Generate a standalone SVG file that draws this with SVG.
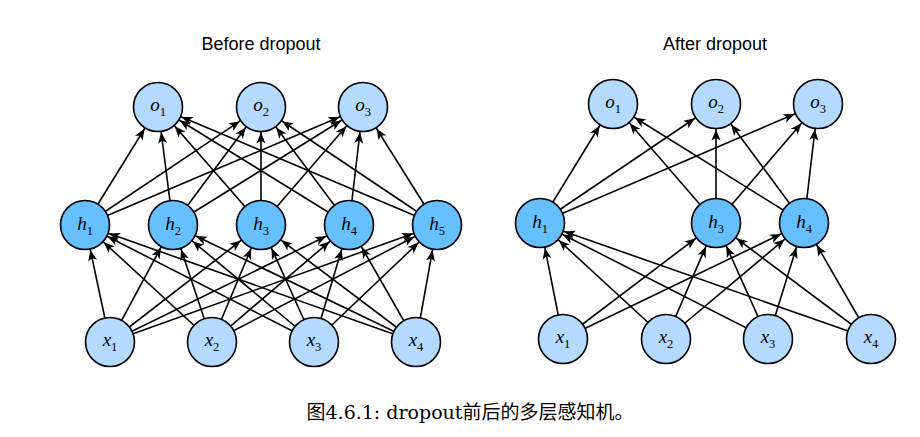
<svg xmlns="http://www.w3.org/2000/svg" width="920" height="437" viewBox="0 0 920 437">
<style>
.e{stroke:#000;stroke-width:1.6;fill:none;marker-end:url(#arr)}
.nl{fill:#b4daff;stroke:#000;stroke-width:1.6}
.nd{fill:#66bfff;stroke:#000;stroke-width:1.6}
.lb{font-family:"Liberation Serif",serif;font-size:19px;fill:#000;text-anchor:middle}
.v{font-style:italic}
.s{font-size:12.5px}
.t{font-family:"Liberation Sans",Arial,sans-serif;font-size:18px;fill:#000;text-anchor:middle}
.cap{font-family:"DejaVu Serif","Noto Sans CJK SC",serif;font-size:19px;fill:#000;text-anchor:middle}
</style>
<defs>
<marker id="arr" viewBox="0 0 11 9" markerWidth="11" markerHeight="9" refX="36.5" refY="4.5" orient="auto" markerUnits="userSpaceOnUse" overflow="visible">
<path d="M0,0 L11,4.5 L0,9 L2.8,4.5 Z" fill="#000"/>
</marker>
</defs>
<rect width="920" height="437" fill="#fff"/>
<text class="t" x="261" y="50">Before dropout</text>
<text class="t" x="715" y="50">After dropout</text>
<g id="connectors">
<line class="e" x1="85" y1="225" x2="158" y2="107"/>
<line class="e" x1="85" y1="225" x2="261" y2="107"/>
<line class="e" x1="85" y1="225" x2="363" y2="107"/>
<line class="e" x1="173" y1="225" x2="158" y2="107"/>
<line class="e" x1="173" y1="225" x2="261" y2="107"/>
<line class="e" x1="173" y1="225" x2="363" y2="107"/>
<line class="e" x1="261" y1="225" x2="158" y2="107"/>
<line class="e" x1="261" y1="225" x2="261" y2="107"/>
<line class="e" x1="261" y1="225" x2="363" y2="107"/>
<line class="e" x1="349" y1="225" x2="158" y2="107"/>
<line class="e" x1="349" y1="225" x2="261" y2="107"/>
<line class="e" x1="349" y1="225" x2="363" y2="107"/>
<line class="e" x1="437" y1="225" x2="158" y2="107"/>
<line class="e" x1="437" y1="225" x2="261" y2="107"/>
<line class="e" x1="437" y1="225" x2="363" y2="107"/>
<line class="e" x1="110" y1="342" x2="85" y2="225"/>
<line class="e" x1="110" y1="342" x2="173" y2="225"/>
<line class="e" x1="110" y1="342" x2="261" y2="225"/>
<line class="e" x1="110" y1="342" x2="349" y2="225"/>
<line class="e" x1="110" y1="342" x2="437" y2="225"/>
<line class="e" x1="212" y1="342" x2="85" y2="225"/>
<line class="e" x1="212" y1="342" x2="173" y2="225"/>
<line class="e" x1="212" y1="342" x2="261" y2="225"/>
<line class="e" x1="212" y1="342" x2="349" y2="225"/>
<line class="e" x1="212" y1="342" x2="437" y2="225"/>
<line class="e" x1="314" y1="342" x2="85" y2="225"/>
<line class="e" x1="314" y1="342" x2="173" y2="225"/>
<line class="e" x1="314" y1="342" x2="261" y2="225"/>
<line class="e" x1="314" y1="342" x2="349" y2="225"/>
<line class="e" x1="314" y1="342" x2="437" y2="225"/>
<line class="e" x1="416" y1="342" x2="85" y2="225"/>
<line class="e" x1="416" y1="342" x2="173" y2="225"/>
<line class="e" x1="416" y1="342" x2="261" y2="225"/>
<line class="e" x1="416" y1="342" x2="349" y2="225"/>
<line class="e" x1="416" y1="342" x2="437" y2="225"/>
<line class="e" x1="540" y1="223" x2="613" y2="104"/>
<line class="e" x1="540" y1="223" x2="716" y2="104"/>
<line class="e" x1="540" y1="223" x2="818" y2="104"/>
<line class="e" x1="716" y1="223" x2="613" y2="104"/>
<line class="e" x1="716" y1="223" x2="716" y2="104"/>
<line class="e" x1="716" y1="223" x2="818" y2="104"/>
<line class="e" x1="804" y1="223" x2="613" y2="104"/>
<line class="e" x1="804" y1="223" x2="716" y2="104"/>
<line class="e" x1="804" y1="223" x2="818" y2="104"/>
<line class="e" x1="563" y1="339" x2="540" y2="223"/>
<line class="e" x1="563" y1="339" x2="716" y2="223"/>
<line class="e" x1="563" y1="339" x2="804" y2="223"/>
<line class="e" x1="666" y1="339" x2="540" y2="223"/>
<line class="e" x1="666" y1="339" x2="716" y2="223"/>
<line class="e" x1="666" y1="339" x2="804" y2="223"/>
<line class="e" x1="768" y1="339" x2="540" y2="223"/>
<line class="e" x1="768" y1="339" x2="716" y2="223"/>
<line class="e" x1="768" y1="339" x2="804" y2="223"/>
<line class="e" x1="871" y1="339" x2="540" y2="223"/>
<line class="e" x1="871" y1="339" x2="716" y2="223"/>
<line class="e" x1="871" y1="339" x2="804" y2="223"/>
</g>
<g id="L_o1"><circle class="nl" cx="158" cy="107" r="24.5"/><text class="lb" x="158" y="111"><tspan class="v">o</tspan><tspan class="s" dy="5">1</tspan></text></g>
<g id="L_o2"><circle class="nl" cx="261" cy="107" r="24.5"/><text class="lb" x="261" y="111"><tspan class="v">o</tspan><tspan class="s" dy="5">2</tspan></text></g>
<g id="L_o3"><circle class="nl" cx="363" cy="107" r="24.5"/><text class="lb" x="363" y="111"><tspan class="v">o</tspan><tspan class="s" dy="5">3</tspan></text></g>
<g id="L_h1"><circle class="nd" cx="85" cy="225" r="24.5"/><text class="lb" x="85" y="230"><tspan class="v">h</tspan><tspan class="s" dy="5">1</tspan></text></g>
<g id="L_h2"><circle class="nd" cx="173" cy="225" r="24.5"/><text class="lb" x="173" y="230"><tspan class="v">h</tspan><tspan class="s" dy="5">2</tspan></text></g>
<g id="L_h3"><circle class="nd" cx="261" cy="225" r="24.5"/><text class="lb" x="261" y="230"><tspan class="v">h</tspan><tspan class="s" dy="5">3</tspan></text></g>
<g id="L_h4"><circle class="nd" cx="349" cy="225" r="24.5"/><text class="lb" x="349" y="230"><tspan class="v">h</tspan><tspan class="s" dy="5">4</tspan></text></g>
<g id="L_h5"><circle class="nd" cx="437" cy="225" r="24.5"/><text class="lb" x="437" y="230"><tspan class="v">h</tspan><tspan class="s" dy="5">5</tspan></text></g>
<g id="L_x1"><circle class="nl" cx="110" cy="342" r="24.5"/><text class="lb" x="110" y="346"><tspan class="v">x</tspan><tspan class="s" dy="5">1</tspan></text></g>
<g id="L_x2"><circle class="nl" cx="212" cy="342" r="24.5"/><text class="lb" x="212" y="346"><tspan class="v">x</tspan><tspan class="s" dy="5">2</tspan></text></g>
<g id="L_x3"><circle class="nl" cx="314" cy="342" r="24.5"/><text class="lb" x="314" y="346"><tspan class="v">x</tspan><tspan class="s" dy="5">3</tspan></text></g>
<g id="L_x4"><circle class="nl" cx="416" cy="342" r="24.5"/><text class="lb" x="416" y="346"><tspan class="v">x</tspan><tspan class="s" dy="5">4</tspan></text></g>
<g id="R_o1"><circle class="nl" cx="613" cy="104" r="24.5"/><text class="lb" x="613" y="108"><tspan class="v">o</tspan><tspan class="s" dy="5">1</tspan></text></g>
<g id="R_o2"><circle class="nl" cx="716" cy="104" r="24.5"/><text class="lb" x="716" y="108"><tspan class="v">o</tspan><tspan class="s" dy="5">2</tspan></text></g>
<g id="R_o3"><circle class="nl" cx="818" cy="104" r="24.5"/><text class="lb" x="818" y="108"><tspan class="v">o</tspan><tspan class="s" dy="5">3</tspan></text></g>
<g id="R_h1"><circle class="nd" cx="540" cy="223" r="24.5"/><text class="lb" x="540" y="228"><tspan class="v">h</tspan><tspan class="s" dy="5">1</tspan></text></g>
<g id="R_h3"><circle class="nd" cx="716" cy="223" r="24.5"/><text class="lb" x="716" y="228"><tspan class="v">h</tspan><tspan class="s" dy="5">3</tspan></text></g>
<g id="R_h4"><circle class="nd" cx="804" cy="223" r="24.5"/><text class="lb" x="804" y="228"><tspan class="v">h</tspan><tspan class="s" dy="5">4</tspan></text></g>
<g id="R_x1"><circle class="nl" cx="563" cy="339" r="24.5"/><text class="lb" x="563" y="343"><tspan class="v">x</tspan><tspan class="s" dy="5">1</tspan></text></g>
<g id="R_x2"><circle class="nl" cx="666" cy="339" r="24.5"/><text class="lb" x="666" y="343"><tspan class="v">x</tspan><tspan class="s" dy="5">2</tspan></text></g>
<g id="R_x3"><circle class="nl" cx="768" cy="339" r="24.5"/><text class="lb" x="768" y="343"><tspan class="v">x</tspan><tspan class="s" dy="5">3</tspan></text></g>
<g id="R_x4"><circle class="nl" cx="871" cy="339" r="24.5"/><text class="lb" x="871" y="343"><tspan class="v">x</tspan><tspan class="s" dy="5">4</tspan></text></g>
<text class="cap" x="470" y="419">图4.6.1: dropout前后的多层感知机。</text>
</svg>
